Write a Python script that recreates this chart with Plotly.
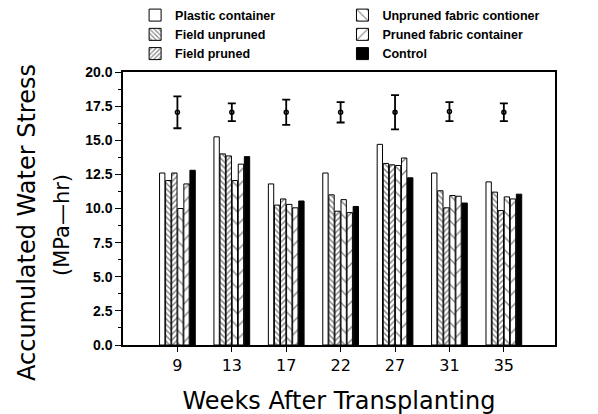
import plotly.graph_objects as go

weeks = ["9", "13", "17", "22", "27", "31", "35"]

plastic_container = [12.6, 15.25, 11.8, 12.6, 14.7, 12.6, 11.95]
field_unpruned = [12.05, 14.0, 10.25, 11.0, 13.3, 11.3, 11.2]
field_pruned = [12.6, 13.85, 10.7, 9.8, 13.2, 10.05, 9.85]
unpruned_fabric = [10.0, 12.05, 10.3, 10.65, 13.15, 10.95, 10.85]
pruned_fabric = [11.8, 13.25, 10.05, 9.7, 13.7, 10.9, 10.7]
control = [12.8, 13.8, 10.55, 10.15, 12.25, 10.4, 11.05]

ref_mean = [17.05, 17.05, 17.05, 17.05, 17.05, 17.1, 17.05]
ref_err = [1.17, 0.65, 0.93, 0.75, 1.25, 0.7, 0.65]

y_ticks = [0, 2.5, 5, 7.5, 10, 12.5, 15, 17.5, 20]

series = [
    ("Plastic container", plastic_container, "", 8, 0.2, "white", "legend"),
    ("Field unpruned", field_unpruned, "\\", 4, 0.35, "white", "legend"),
    ("Field pruned", field_pruned, "/", 4, 0.35, "white", "legend"),
    ("Unpruned fabric contioner", unpruned_fabric, "\\", 9, 0.15, "white", "legend2"),
    ("Pruned fabric container", pruned_fabric, "/", 9, 0.15, "white", "legend2"),
    ("Control", control, "", 8, 0.2, "black", "legend2"),
]

fig = go.Figure()
for name, vals, shape, size, sol, color, leg in series:
    fig.add_trace(go.Bar(
        name=name, x=weeks, y=vals, legend=leg,
        marker=dict(color=color, line=dict(color="black", width=1),
                    pattern=dict(shape=shape, fgcolor="black", bgcolor=color,
                                 size=size, solidity=sol)),
    ))

fig.add_trace(go.Scatter(
    x=weeks, y=ref_mean, mode="markers", showlegend=False,
    marker=dict(symbol="circle-open", size=4, color="black", line=dict(width=1.5)),
    error_y=dict(type="data", array=ref_err, visible=True, color="black",
                 thickness=1.8, width=4),
))

legend_style = dict(font=dict(family="Liberation Sans", size=12.5, color="black", weight="bold"),
                    bgcolor="rgba(0,0,0,0)", yanchor="top", xanchor="left",
                    tracegroupgap=0, itemwidth=30)

fig.update_layout(
    width=598, height=414,
    margin=dict(l=115, r=51, t=64, b=77, autoexpand=False),
    paper_bgcolor="white", plot_bgcolor="white",
    barmode="group", bargap=0.33, bargroupgap=0.12,
    legend=dict(x=0.028, y=1.262, **legend_style),
    legend2=dict(x=0.508, y=1.262, **legend_style),
    xaxis=dict(
        range=[-1.0, 6.94], showline=True, mirror=True, linecolor="black", linewidth=1.5,
        ticks="outside", ticklen=5, tickcolor="black", showgrid=False,
        tickfont=dict(family="DejaVu Sans", size=16, color="black"),
        title=dict(text="Weeks After Transplanting", standoff=18,
                   font=dict(family="DejaVu Sans", size=24, color="black")),
    ),
    yaxis=dict(
        range=[0, 20], tickvals=y_ticks, tickformat=".1f",
        showline=True, mirror=True, linecolor="black", linewidth=1.5,
        ticks="outside", ticklen=6, tickcolor="black", showgrid=False, zeroline=False,
        tickfont=dict(family="Liberation Sans", size=14, color="black", weight="bold"),
        minor=dict(dtick=1.25, ticks="outside", ticklen=3, tickcolor="black"),
    ),
    annotations=[
        dict(text="Accumulated Water Stress", textangle=-90, xref="paper", yref="paper",
             x=(27 - 123) / 432, y=(345 - 223) / 273, showarrow=False,
             xanchor="center", yanchor="middle",
             font=dict(family="DejaVu Sans", size=24, color="black")),
        dict(text="(MPa\u2014hr)", textangle=-90, xref="paper", yref="paper",
             x=(62 - 123) / 432, y=(345 - 225) / 273, showarrow=False,
             xanchor="center", yanchor="middle",
             font=dict(family="DejaVu Sans", size=21, color="black")),
    ],
)

fig.write_html("out.html")
